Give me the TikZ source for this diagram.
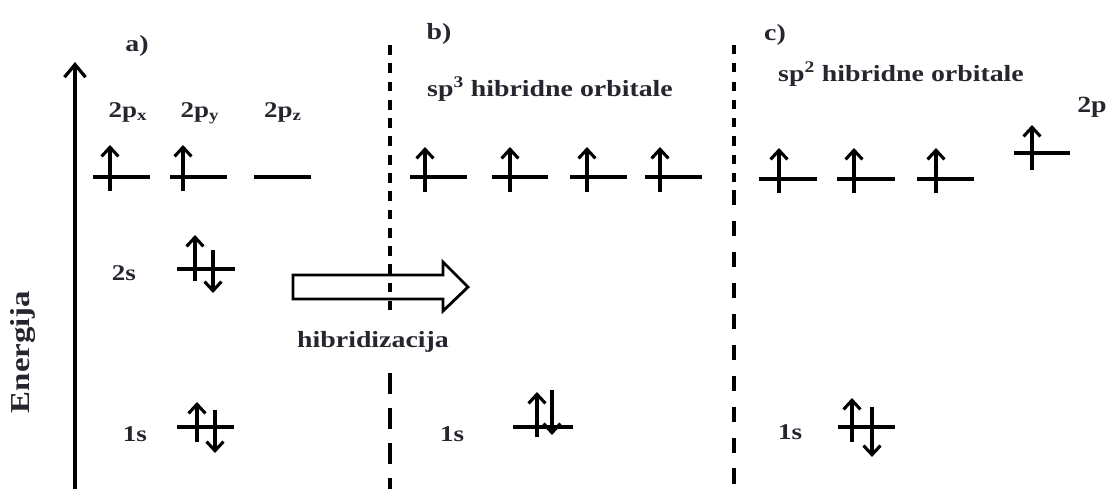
\documentclass[tikz,border=0pt]{standalone}
\usepackage{fontspec}
\setmainfont{Liberation Serif}[FakeStretch=1.2]
\usetikzlibrary{arrows.meta}
\definecolor{txt}{HTML}{26262E}
\tikzset{
  lvl/.style={line width=2.4pt},
  eup/.style={line width=2.2pt, -{Straight Barb[length=6.5pt, width=12pt]}},
  lbl/.style={anchor=base, text=txt, font=\bfseries\fontsize{16}{18}\selectfont, inner sep=0pt},
  ttl/.style={anchor=base, text=txt, font=\bfseries\fontsize{16.5}{19}\selectfont, inner sep=0pt},
  sep/.style={line width=2.3pt},
}
\begin{document}
\begin{tikzpicture}[x=0.025cm, y=-0.025cm]
    \useasboundingbox (0, 0) rectangle (1107, 489);
\draw[line width=2.3pt, -{Straight Barb[length=9pt, width=15pt]}] (75, 489) -- (75, 62);
\node[ttl, rotate=90, font=\bfseries\fontsize{19.5}{22}\selectfont] (energy) at (29, 352) {Energija};
% a)
\node[ttl] (pa) at (137, 51) {a)};
\node[lbl] (px) at (128, 117) {2p\textsubscript{x}};
\node[lbl] (py) at (200, 117) {2p\textsubscript{y}};
\node[lbl] (pz) at (283, 117) {2p\textsubscript{z}};
\draw[lvl] (93, 177) -- (150, 177);
\draw[lvl] (170, 177) -- (227, 177);
\draw[lvl] (254, 177) -- (311, 177);
\draw[eup] (110, 191) -- (110, 145);
\draw[eup] (183, 191) -- (183, 145);
\node[lbl] (twos) at (124, 280) {2s};
\draw[lvl] (177, 269) -- (235, 269);
\draw[eup] (195, 281) -- (195, 235);
\draw[eup] (213, 250) -- (213, 293);
\node[lbl] (onesa) at (135, 441) {1s};
\draw[lvl] (177, 427) -- (234, 427);
\draw[eup] (197, 442) -- (197, 402);
\draw[eup] (215, 410) -- (215, 453);
% hibridizacija
\draw[line width=2pt] (293, 275) -- (443, 275) -- (443, 262) -- (468, 287) -- (443, 311) -- (443, 299) -- (293, 299) -- cycle;
\node[ttl] (hib) at (373, 347) {hibridizacija};
\draw[sep, dash pattern=on 7pt off 6pt] (390, 45) -- (390, 310);
\draw[sep, dash pattern=on 15pt off 10pt] (390, 373) -- (390, 489);
% b)
\node[ttl] (pb) at (439, 39) {b)};
\node[ttl] (spthree) at (550, 96) {sp\textsuperscript{3} hibridne orbitale};
\draw[lvl] (410, 177) -- (467, 177);
\draw[lvl] (492, 177) -- (548, 177);
\draw[lvl] (570, 177) -- (627, 177);
\draw[lvl] (645, 177) -- (702, 177);
\draw[eup] (425, 192) -- (425, 147);
\draw[eup] (510, 192) -- (510, 147);
\draw[eup] (587, 192) -- (587, 147);
\draw[eup] (660, 192) -- (660, 147);
\node[lbl] (onesb) at (452, 441) {1s};
\draw[lvl] (513, 427) -- (573, 427);
\draw[eup] (537, 437) -- (537, 392);
\draw[eup] (552, 390) -- (552, 435);
\draw[sep, dash pattern=on 6.5pt off 6.5pt] (734, 45) -- (734, 182);
\draw[sep, dash pattern=on 11pt off 11pt] (734, 190) -- (734, 489);
% c)
\node[ttl] (pc) at (775, 40) {c)};
\node[ttl] (sptwo) at (901, 81) {sp\textsuperscript{2} hibridne orbitale};
\node[ttl] (twop) at (1092, 112) {2p};
\draw[lvl] (759, 179) -- (817, 179);
\draw[lvl] (837, 179) -- (895, 179);
\draw[lvl] (917, 179) -- (974, 179);
\draw[eup] (779, 193) -- (779, 148);
\draw[eup] (854, 193) -- (854, 148);
\draw[eup] (936, 193) -- (936, 148);
\draw[lvl] (1014, 153) -- (1070, 153);
\draw[eup] (1032, 170) -- (1032, 125);
\node[lbl] (onesc) at (790, 439) {1s};
\draw[lvl] (838, 427) -- (895, 427);
\draw[eup] (852, 442) -- (852, 398);
\draw[eup] (872, 407) -- (872, 457);
    \end{tikzpicture}
\end{document}
